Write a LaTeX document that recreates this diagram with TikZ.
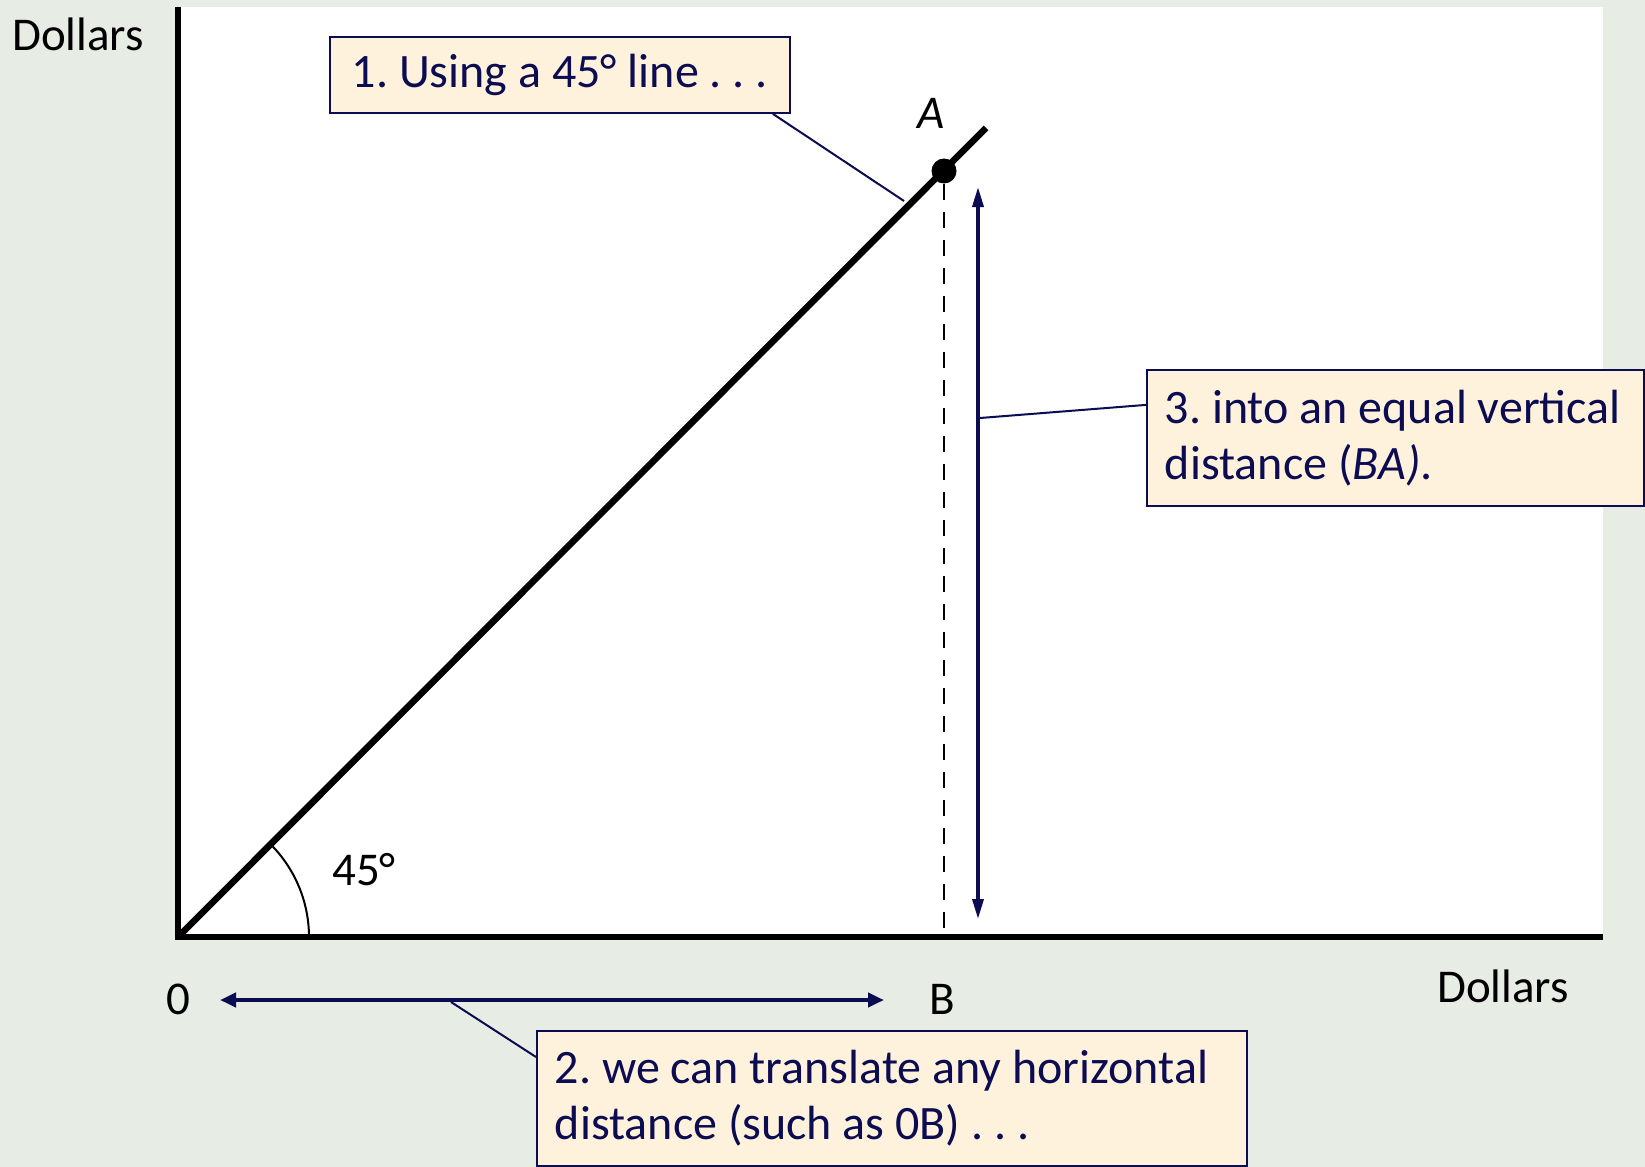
\documentclass[tikz,border=0pt]{standalone}
\usepackage{fontspec}
\setmainfont{Carlito}
\usetikzlibrary{arrows.meta}
\definecolor{bgcol}{RGB}{231,236,228}
\definecolor{navy}{RGB}{12,12,82}
\definecolor{cream}{RGB}{255,242,220}
\tikzset{
  box/.style     = {draw=navy, fill=cream, text=navy, line width=0.9pt,
                    font=\fontsize{24}{28}\selectfont\frenchspacing, align=flush left,
                    inner xsep=9pt, inner ysep=0pt, anchor=north west},
  lbl/.style     = {font=\fontsize{23.5}{28}\selectfont, inner sep=0pt},
  axis/.style    = {line width=3.3pt, black},
  dot/.style     = {circle, fill=black, inner sep=0pt, minimum size=12.5pt},
  guide/.style   = {line width=1.3pt, black, dash pattern=on 8pt off 6pt},
  callout/.style = {line width=1pt, navy},
  vdbl/.style    = {{Triangle[length=10pt,width=5.5pt]}-{Triangle[length=10pt,width=5.5pt]},
                    line width=1.7pt, navy},
  hdbl/.style    = {{Triangle[length=8pt,width=7pt]}-{Triangle[length=8pt,width=7pt]},
                    line width=2.4pt, navy}
}
\begin{document}
\begin{tikzpicture}[x=0.5pt,y=-0.5pt]
  \useasboundingbox (0,0) rectangle (1645,1167);
  % ---- background and plot area ----
  \fill[bgcol] (0,0) rectangle (1645,1167);
  \fill[white] (178,7) rectangle (1603,937);

  % ---- axes and 45 degree line ----
  \coordinate (o) at (178,937);
  \coordinate (ytop) at (178,7);
  \coordinate (xend) at (1603,937);
  \coordinate (lend) at (986,128);
  \draw[axis] (ytop) -- (o) -- (xend);
  \draw[axis] (o) -- (lend);
  \draw[line width=1pt] (309,937) arc[start angle=0,end angle=-45,radius=131];
  \node[lbl] (ang) at (364,870) {45°};

  % ---- point A and distances ----
  \node[dot] (a) at (944,171) {};
  \node[lbl, font=\fontsize{23.5}{28}\selectfont\itshape] (alab) at (931,113) {A};
  \coordinate (b) at (944,937);
  \draw[guide] (a) -- (b);
  \coordinate (vt) at (978,187);
  \coordinate (vb) at (978,919);
  \draw[vdbl] (vt) -- (vb);
  \coordinate (hl) at (220,1000);
  \coordinate (hr) at (884,1000);
  \draw[hdbl] (hl) -- (hr);

  % ---- axis labels ----
  \node[lbl] (ylab) at (78,34) {Dollars};
  \node[lbl] (xlab) at (1503,986) {Dollars};
  \node[lbl] (zero) at (178,999) {0};
  \node[lbl] (blab) at (942,999) {B};

  % ---- callouts ----
  \node[box, minimum height=38pt, minimum width=230pt] (box1) at (329,36)
    {1. Using a 45° line . . .};
  \node[box, minimum height=67.5pt, text width=337pt] (box2) at (536,1030)
    {2. we can translate any horizontal\\distance (such as 0B) . . .};
  \node[box, minimum height=68pt, text width=230.5pt] (box3) at (1146,369)
    {3. into an equal vertical\\distance (\textit{BA)}.};
  \coordinate (p1) at (904,201);
  \coordinate (p2) at (451,1002);
  \coordinate (p3) at (980,418);
  \draw[callout] ([xshift=-9pt]box1.south east) -- (p1);
  \draw[callout] ([yshift=-13.5pt]box2.north west) -- (p2);
  \draw[callout] ([yshift=16.5pt]box3.west) -- (p3);
\end{tikzpicture}
\end{document}
